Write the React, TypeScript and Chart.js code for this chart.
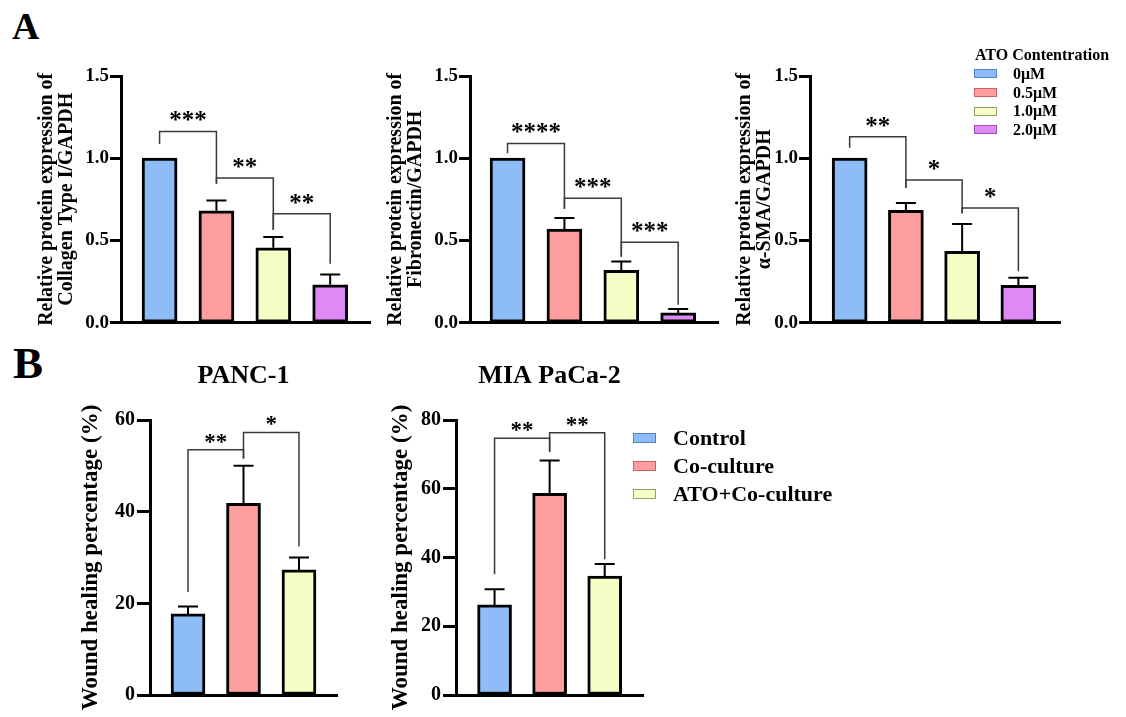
import React, { useEffect, useRef } from 'react';
import { Chart, registerables } from 'chart.js';

Chart.register(...registerables);

const FONT = '"Liberation Serif", "Times New Roman", Times, serif';

// ---------- Panel A data ----------
const atoLevels = ['0μM', '0.5μM', '1.0μM', '2.0μM'];
const atoColors = ['#8EBCF6', '#FF9E9E', '#F3FFC4', '#DE8AF4'];
const atoEdge = ['#4F82C9', '#D0605F', '#9A9D6A', '#9C4FB5'];
const relTickValues = [0, 0.5, 1.0, 1.5];
const relTickLabels = ['0.0', '0.5', '1.0', '1.5'];

const collagenValues = [1.0, 0.68, 0.455, 0.23];
const collagenErrors = [0, 0.063, 0.065, 0.063];
const fibronectinValues = [1.0, 0.569, 0.318, 0.059];
const fibronectinErrors = [0, 0.067, 0.054, 0.024];
const smaValues = [1.0, 0.683, 0.434, 0.226];
const smaErrors = [0, 0.045, 0.166, 0.047];

// bracket: [fromBar, toBar, leftLegEnd, top, rightLegEnd, label]
const collagenBrackets: any[] = [
  [0, 1, 1.087, 1.162, 0.845, '***'],
  [1, 2, 0.845, 0.879, 0.565, '**'],
  [2, 3, 0.565, 0.662, 0.358, '**'],
];
const fibronectinBrackets: any[] = [
  [0, 1, 1.03, 1.09, 0.692, '****'],
  [1, 2, 0.692, 0.757, 0.4, '***'],
  [2, 3, 0.4, 0.488, 0.109, '***'],
];
const smaBrackets: any[] = [
  [0, 1, 1.063, 1.13, 0.82, '**'],
  [1, 2, 0.82, 0.868, 0.665, '*'],
  [2, 3, 0.665, 0.697, 0.312, '*'],
];

// ---------- Panel B data ----------
const groups = ['Control', 'Co-culture', 'ATO+Co-culture'];
const groupColors = ['#8EBCF6', '#FF9E9E', '#F3FFC4'];
const groupEdge = ['#4F82C9', '#D0605F', '#9A9D6A'];
const panc1TickValues = [0, 20, 40, 60];
const miaTickValues = [0, 20, 40, 60, 80];
const panc1Values = [17.7, 41.8, 27.3];
const panc1Errors = [1.6, 8.2, 2.7];
const miaValues = [26.2, 58.7, 34.6];
const miaErrors = [4.6, 9.5, 3.5];
const panc1Brackets: any[] = [
  [0, 1, 22.5, 53.5, 51.6, '**'],
  [1, 2, 51.6, 57.3, 32.4, '*'],
];
const miaBrackets: any[] = [
  [0, 1, 35.1, 74.7, 70.8, '**'],
  [1, 2, 70.8, 76.3, 39.5, '**'],
];

type Spec = {
  left: number; top: number; w: number; h: number;
  pad: { top: number; right: number; bottom: number };
  yWidth: number;
  xMin: number; xMax: number;
  values: number[]; errors: number[]; colors: string[];
  brackets: any[];
  tickValues: number[]; tickLabels: string[];
  tickFont: number; tickLength: number; tickPad: number;
  yTitle: string | string[]; yTitleFont: number; yTitlePad: number;
  barThickness: number;
  starSize: number; starGap: number;
  title?: string; titlePadBottom?: number;
};

const specs: Spec[] = [
  {
    left: 20, top: 50, w: 355, h: 285, pad: { top: 26, right: 5, bottom: 12 }, yWidth: 101,
    xMin: -0.678, xMax: 3.7, values: collagenValues, errors: collagenErrors, colors: atoColors,
    brackets: collagenBrackets, tickValues: relTickValues, tickLabels: relTickLabels,
    tickFont: 19, tickLength: 11, tickPad: 1,
    yTitle: ['Relative protein expression of', 'Collagen Type I/GAPDH'], yTitleFont: 20, yTitlePad: 16.7,
    barThickness: 35, starSize: 25, starGap: 15,
  },
  {
    left: 369, top: 50, w: 354, h: 285, pad: { top: 26, right: 5, bottom: 12 }, yWidth: 101,
    xMin: -0.66, xMax: 3.7, values: fibronectinValues, errors: fibronectinErrors, colors: atoColors,
    brackets: fibronectinBrackets, tickValues: relTickValues, tickLabels: relTickLabels,
    tickFont: 19, tickLength: 11, tickPad: 1,
    yTitle: ['Relative protein expression of', 'Fibronectin/GAPDH'], yTitleFont: 20, yTitlePad: 17,
    barThickness: 35, starSize: 25, starGap: 15,
  },
  {
    left: 709, top: 50, w: 356, h: 285, pad: { top: 26, right: 5, bottom: 12 }, yWidth: 101,
    xMin: -0.705, xMax: 3.74, values: smaValues, errors: smaErrors, colors: atoColors,
    brackets: smaBrackets, tickValues: relTickValues, tickLabels: relTickLabels,
    tickFont: 19, tickLength: 11, tickPad: 1,
    yTitle: ['Relative protein expression of', 'α-SMA/GAPDH'], yTitleFont: 20, yTitlePad: 26,
    barThickness: 35, starSize: 25, starGap: 15,
  },
  {
    left: 60, top: 340, w: 285, h: 377, pad: { top: 20.4, right: 8, bottom: 22 }, yWidth: 90,
    xMin: -0.685, xMax: 2.685, values: panc1Values, errors: panc1Errors, colors: groupColors,
    brackets: panc1Brackets, tickValues: panc1TickValues, tickLabels: panc1TickValues.map(String),
    tickFont: 20, tickLength: 13, tickPad: 2,
    yTitle: 'Wound healing percentage (%)', yTitleFont: 23, yTitlePad: 19.5,
    barThickness: 34, starSize: 23, starGap: 12,
    title: 'PANC-1', titlePadBottom: 28.4,
  },
  {
    left: 366, top: 340, w: 285, h: 377, pad: { top: 20.4, right: 8, bottom: 22 }, yWidth: 90,
    xMin: -0.7, xMax: 2.695, values: miaValues, errors: miaErrors, colors: groupColors,
    brackets: miaBrackets, tickValues: miaTickValues, tickLabels: miaTickValues.map(String),
    tickFont: 20, tickLength: 13, tickPad: 2,
    yTitle: 'Wound healing percentage (%)', yTitleFont: 23, yTitlePad: 23.5,
    barThickness: 34, starSize: 23, starGap: 12,
    title: 'MIA PaCa-2', titlePadBottom: 28.4,
  },
];

function makeConfig(p: Spec): any {
  const overlay = {
    id: 'overlay',
    afterDatasetsDraw(chart: any) {
      const { ctx } = chart;
      const x = chart.scales.x;
      const y = chart.scales.y;
      ctx.save();
      // error bars (upper only)
      ctx.strokeStyle = '#000';
      ctx.lineWidth = 2;
      p.values.forEach((v, i) => {
        const e = p.errors[i];
        if (!e) return;
        const cx = x.getPixelForValue(i);
        const y0 = y.getPixelForValue(v);
        const y1 = y.getPixelForValue(v + e);
        ctx.beginPath();
        ctx.moveTo(cx, y0);
        ctx.lineTo(cx, y1);
        ctx.moveTo(cx - 10, y1);
        ctx.lineTo(cx + 10, y1);
        ctx.stroke();
      });
      // significance brackets
      ctx.strokeStyle = '#3a3a3a';
      ctx.lineWidth = 1.5;
      ctx.fillStyle = '#000';
      ctx.font = `bold ${p.starSize}px ${FONT}`;
      ctx.textAlign = 'center';
      ctx.textBaseline = 'alphabetic';
      p.brackets.forEach(([a, b, l, t, r, label]: any[]) => {
        const xa = x.getPixelForValue(a);
        const xb = x.getPixelForValue(b);
        const yl = y.getPixelForValue(l);
        const yt = y.getPixelForValue(t);
        const yr = y.getPixelForValue(r);
        ctx.beginPath();
        ctx.moveTo(xa, yl);
        ctx.lineTo(xa, yt);
        ctx.lineTo(xb, yt);
        ctx.lineTo(xb, yr);
        ctx.stroke();
        ctx.fillText(label, (xa + xb) / 2, yt - p.starGap + p.starSize * 0.47);
      });
      ctx.restore();
    },
  };

  return {
    type: 'bar',
    data: {
      datasets: [
        {
          data: p.values.map((v, i) => ({ x: i, y: v })),
          backgroundColor: p.colors,
          borderColor: '#000',
          borderWidth: 3,
          borderSkipped: false,
          barThickness: p.barThickness,
        },
      ],
    },
    options: {
      responsive: false,
      animation: false,
      devicePixelRatio: 1,
      layout: { padding: { top: p.pad.top, right: p.pad.right, bottom: p.pad.bottom, left: 0 } },
      plugins: {
        legend: { display: false },
        tooltip: { enabled: false },
        title: p.title
          ? {
              display: true,
              text: p.title,
              fullSize: false,
              color: '#000',
              font: { family: FONT, size: 26, weight: 'bold', lineHeight: 1.2 },
              padding: { top: 0, bottom: p.titlePadBottom },
            }
          : { display: false },
      },
      scales: {
        x: {
          type: 'linear',
          min: p.xMin,
          max: p.xMax,
          offset: false,
          ticks: { display: false },
          grid: { display: false },
          border: { display: true, width: 3, color: '#000' },
          afterFit: (s: any) => {
            s.height = 0;
          },
        },
        y: {
          type: 'linear',
          min: p.tickValues[0],
          max: p.tickValues[p.tickValues.length - 1],
          afterBuildTicks: (s: any) => {
            s.ticks = p.tickValues.map((v) => ({ value: v }));
          },
          ticks: {
            color: '#000',
            padding: p.tickPad,
            autoSkip: false,
            font: { family: FONT, size: p.tickFont, weight: 'bold' },
            callback: (_v: any, i: number) => p.tickLabels[i],
          },
          grid: {
            display: true,
            drawOnChartArea: false,
            drawTicks: true,
            tickLength: p.tickLength,
            tickWidth: 3,
            tickColor: '#000',
          },
          border: { display: true, width: 3, color: '#000' },
          title: {
            display: true,
            text: p.yTitle,
            color: '#000',
            font: { family: FONT, size: p.yTitleFont, weight: 'bold', lineHeight: 1.0 },
            padding: { top: p.yTitlePad, bottom: 0 },
          },
          afterFit: (s: any) => {
            s.width = p.yWidth;
          },
        },
      },
    },
    plugins: [overlay],
  };
}

function ChartBox({ spec }: { spec: Spec }) {
  const ref = useRef<HTMLCanvasElement>(null);
  useEffect(() => {
    const chart = new Chart(ref.current as HTMLCanvasElement, makeConfig(spec));
    return () => chart.destroy();
  }, [spec]);
  return (
    <canvas
      ref={ref}
      width={spec.w}
      height={spec.h}
      style={{ position: 'absolute', left: spec.left, top: spec.top, width: spec.w, height: spec.h }}
    />
  );
}

const legendACenters = [73.5, 92.5, 111, 129.5];
const legendBCenters = [437.7, 466, 494.3];

export default function App() {
  return (
    <div
      style={{
        position: 'fixed',
        left: 0,
        top: 0,
        width: 1126,
        height: 717,
        background: '#fff',
        overflow: 'hidden',
        fontFamily: FONT,
        fontWeight: 'bold',
        color: '#000',
      }}
    >
      <div style={{ position: 'absolute', left: 12, top: 6.5, fontSize: 38, lineHeight: '38px' }}>A</div>
      <div style={{ position: 'absolute', left: 13, top: 340.6, fontSize: 45, lineHeight: '45px' }}>B</div>

      {specs.map((s, i) => (
        <ChartBox key={i} spec={s} />
      ))}

      {/* Legend A */}
      <div style={{ position: 'absolute', left: 975, top: 45, fontSize: 16, lineHeight: '20px', whiteSpace: 'nowrap' }}>
        ATO Contentration
      </div>
      {atoLevels.map((lab, i) => (
        <React.Fragment key={lab}>
          <div
            style={{
              position: 'absolute',
              left: 974,
              top: legendACenters[i] - 4.5,
              width: 23,
              height: 9,
              boxSizing: 'border-box',
              background: atoColors[i],
              border: `1px solid ${atoEdge[i]}`,
            }}
          />
          <div
            style={{
              position: 'absolute',
              left: 1013,
              top: legendACenters[i] - 10,
              fontSize: 16,
              lineHeight: '20px',
              whiteSpace: 'nowrap',
            }}
          >
            {lab}
          </div>
        </React.Fragment>
      ))}

      {/* Legend B */}
      {groups.map((lab, i) => (
        <React.Fragment key={lab}>
          <div
            style={{
              position: 'absolute',
              left: 633,
              top: legendBCenters[i] - 5,
              width: 23,
              height: 10,
              boxSizing: 'border-box',
              background: groupColors[i],
              border: `1px solid ${groupEdge[i]}`,
            }}
          />
          <div
            style={{
              position: 'absolute',
              left: 673,
              top: legendBCenters[i] - 14,
              fontSize: 22,
              lineHeight: '28px',
              whiteSpace: 'nowrap',
            }}
          >
            {lab}
          </div>
        </React.Fragment>
      ))}
    </div>
  );
}
